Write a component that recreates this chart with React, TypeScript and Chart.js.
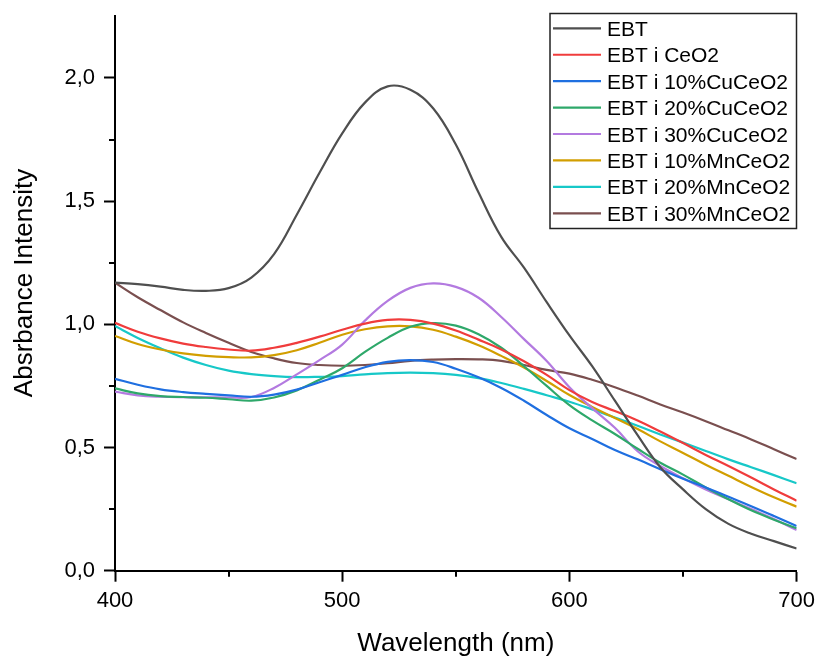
import React, { useEffect, useRef } from "react";
import { Chart, registerables } from "chart.js";

Chart.register(...registerables);

const wavelengths = [400, 410, 420, 430, 440, 450, 460, 470, 480, 490, 500, 510, 520, 530, 540, 550, 560, 570, 580, 590, 600, 610, 620, 630, 640, 650, 660, 670, 680, 690, 700];

const ebt = [1.169, 1.163, 1.153, 1.14, 1.136, 1.147, 1.19, 1.285, 1.445, 1.615, 1.775, 1.9, 1.966, 1.952, 1.877, 1.73, 1.535, 1.355, 1.23, 1.09, 0.955, 0.83, 0.69, 0.55, 0.42, 0.33, 0.25, 0.19, 0.15, 0.12, 0.09];
const ebtCeO2 = [1.006, 0.97, 0.943, 0.922, 0.908, 0.898, 0.893, 0.905, 0.925, 0.95, 0.978, 1.003, 1.018, 1.018, 1.003, 0.975, 0.938, 0.898, 0.85, 0.795, 0.733, 0.685, 0.648, 0.61, 0.565, 0.518, 0.47, 0.425, 0.378, 0.33, 0.284];
const ebtCu10 = [0.779, 0.755, 0.736, 0.725, 0.718, 0.712, 0.706, 0.715, 0.735, 0.765, 0.795, 0.826, 0.848, 0.855, 0.847, 0.82, 0.785, 0.742, 0.69, 0.632, 0.578, 0.535, 0.49, 0.452, 0.412, 0.373, 0.338, 0.3, 0.262, 0.222, 0.181];
const ebtCu20 = [0.74, 0.72, 0.709, 0.705, 0.702, 0.696, 0.69, 0.703, 0.732, 0.775, 0.822, 0.888, 0.945, 0.99, 1.005, 0.995, 0.96, 0.905, 0.83, 0.75, 0.672, 0.61, 0.555, 0.495, 0.438, 0.39, 0.338, 0.29, 0.245, 0.207, 0.172];
const ebtCu30 = [0.727, 0.712, 0.706, 0.704, 0.704, 0.703, 0.705, 0.742, 0.797, 0.855, 0.918, 1.015, 1.095, 1.148, 1.166, 1.152, 1.108, 1.03, 0.94, 0.851, 0.745, 0.66, 0.58, 0.485, 0.425, 0.375, 0.33, 0.29, 0.25, 0.21, 0.165];
const ebtMn10 = [0.953, 0.92, 0.898, 0.882, 0.872, 0.867, 0.866, 0.875, 0.895, 0.925, 0.958, 0.98, 0.992, 0.992, 0.978, 0.95, 0.915, 0.872, 0.825, 0.77, 0.713, 0.665, 0.62, 0.575, 0.525, 0.478, 0.43, 0.385, 0.34, 0.298, 0.26];
const ebtMn20 = [0.993, 0.945, 0.903, 0.865, 0.835, 0.812, 0.798, 0.79, 0.786, 0.787, 0.79, 0.797, 0.802, 0.804, 0.802, 0.795, 0.782, 0.762, 0.738, 0.712, 0.686, 0.655, 0.622, 0.588, 0.553, 0.52, 0.486, 0.452, 0.42, 0.388, 0.355];
const ebtMn30 = [1.169, 1.11, 1.058, 1.008, 0.965, 0.925, 0.888, 0.862, 0.843, 0.835, 0.832, 0.835, 0.842, 0.852, 0.857, 0.859, 0.858, 0.852, 0.835, 0.815, 0.8, 0.775, 0.745, 0.711, 0.675, 0.642, 0.607, 0.57, 0.533, 0.493, 0.453];

const seriesLabels = ["EBT", "EBT i CeO2", "EBT i 10%CuCeO2", "EBT i 20%CuCeO2", "EBT i 30%CuCeO2", "EBT i 10%MnCeO2", "EBT i 20%MnCeO2", "EBT i 30%MnCeO2"];
const seriesValues = [ebt, ebtCeO2, ebtCu10, ebtCu20, ebtCu30, ebtMn10, ebtMn20, ebtMn30];
const seriesColors = ["#4f4f4f", "#f03c3c", "#1f6fe0", "#2ea86a", "#b37ae0", "#d29e00", "#17c8c8", "#7a4f4f"];

const xTicks = [400, 500, 600, 700];
const xMinorTicks = [450, 550, 650];
const yTicks = [0, 0.5, 1.0, 1.5, 2.0];
const yMinorTicks = [0.25, 0.75, 1.25, 1.75];

const xTitle = "Wavelength (nm)";
const yTitle = "Absrbance Intensity";

const FONT = "'Liberation Sans', Arial, sans-serif";

const decorPlugin = {
  id: "decor",
  afterDraw(chart: any) {
    const ctx = chart.ctx;
    const xs = chart.scales.x;
    const ys = chart.scales.y;
    const area = chart.chartArea;
    ctx.save();
    // minor ticks
    ctx.strokeStyle = "#000";
    ctx.lineWidth = 2;
    ctx.beginPath();
    xMinorTicks.forEach((v) => {
      const px = Math.round(xs.getPixelForValue(v));
      ctx.moveTo(px, area.bottom);
      ctx.lineTo(px, area.bottom + 6);
    });
    yMinorTicks.forEach((v) => {
      const py = Math.round(ys.getPixelForValue(v));
      ctx.moveTo(area.left, py);
      ctx.lineTo(area.left - 6, py);
    });
    ctx.stroke();

    // axis titles
    ctx.fillStyle = "#000";
    ctx.font = `26px ${FONT}`;
    ctx.textAlign = "center";
    ctx.textBaseline = "alphabetic";
    ctx.fillText(xTitle, (area.left + area.right) / 2, 651);
    ctx.save();
    ctx.translate(32, 283);
    ctx.rotate(-Math.PI / 2);
    ctx.fillText(yTitle, 0, 0);
    ctx.restore();

    // legend
    const boxL = 550, boxT = 13.5, boxR = 796.5, boxB = 228.5;
    ctx.fillStyle = "#fff";
    ctx.fillRect(boxL, boxT, boxR - boxL, boxB - boxT);
    ctx.strokeStyle = "#222";
    ctx.lineWidth = 1.5;
    ctx.strokeRect(boxL, boxT, boxR - boxL, boxB - boxT);
    ctx.font = `21px ${FONT}`;
    ctx.textAlign = "left";
    chart.data.datasets.forEach((ds: any, i: number) => {
      const cy = 28.3 + i * 26.43;
      ctx.strokeStyle = ds.borderColor;
      ctx.lineWidth = 2.2;
      ctx.beginPath();
      ctx.moveTo(553, cy);
      ctx.lineTo(601, cy);
      ctx.stroke();
      ctx.fillStyle = "#000";
      ctx.fillText(ds.label, 607, cy + 7.5);
    });
    ctx.restore();
  },
};

export default function App() {
  const canvasRef = useRef<HTMLCanvasElement | null>(null);

  useEffect(() => {
    const canvas = canvasRef.current;
    if (!canvas) return;
    const datasets = seriesLabels.map((label, i) => ({
      label,
      data: wavelengths.map((w, j) => ({ x: w, y: seriesValues[i][j] })),
      borderColor: seriesColors[i],
      backgroundColor: seriesColors[i],
      borderWidth: 2.2,
      pointRadius: 0,
      tension: 0.4,
      fill: false,
    }));
    const chart = new Chart(canvas, {
      type: "line",
      data: { datasets },
      plugins: [decorPlugin],
      options: {
        responsive: false,
        animation: false,
        layout: { padding: { left: 0, right: 23.5, top: 16.4, bottom: 0 } },
        plugins: { legend: { display: false }, tooltip: { enabled: false } },
        scales: {
          x: {
            type: "linear",
            min: 400,
            max: 700,
            afterFit: (s: any) => { s.height = 88.3; },
            afterBuildTicks: (s: any) => { s.ticks = xTicks.map((v) => ({ value: v })); },
            border: { display: true, color: "#000", width: 2 },
            grid: { drawOnChartArea: false, drawTicks: true, tickLength: 11, tickWidth: 2, tickColor: "#000" },
            ticks: { color: "#000", font: { family: FONT, size: 22 }, padding: 6, maxRotation: 0, callback: (v: any) => String(v) },
          },
          y: {
            type: "linear",
            min: 0,
            max: 2.25,
            afterFit: (s: any) => { s.width = 115; s.paddingTop = 0; s.paddingBottom = 0; },
            afterBuildTicks: (s: any) => { s.ticks = yTicks.map((v) => ({ value: v })); },
            border: { display: true, color: "#000", width: 2 },
            grid: { drawOnChartArea: false, drawTicks: true, tickLength: 11, tickWidth: 2, tickColor: "#000" },
            ticks: { color: "#000", font: { family: FONT, size: 22 }, padding: 9, callback: (v: any) => Number(v).toFixed(1).replace(".", ",") },
          },
        },
      },
    });
    return () => chart.destroy();
  }, []);

  return (
    <div style={{ position: "fixed", left: 0, top: 0, width: 821, height: 659, background: "#fff" }}>
      <canvas ref={canvasRef} width={821} height={659} style={{ width: 821, height: 659, display: "block" }} />
    </div>
  );
}
